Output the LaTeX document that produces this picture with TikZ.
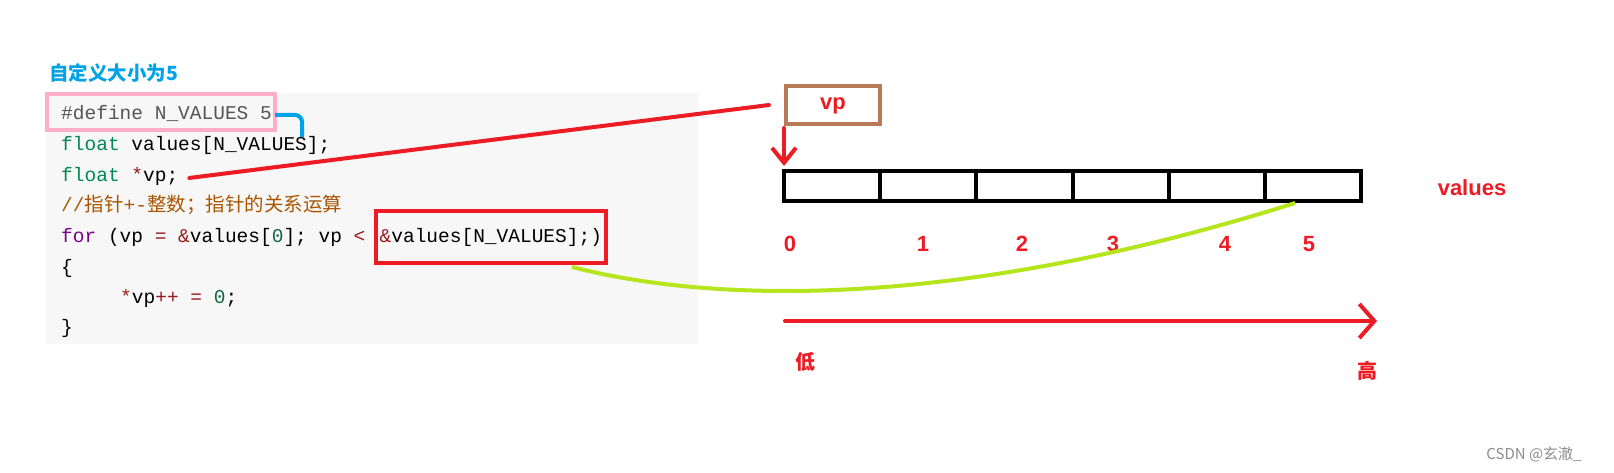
\documentclass[tikz,border=0pt]{standalone}
\usepackage{fontspec}
\setmainfont{Liberation Sans}
\newfontfamily\cjk{Noto Sans CJK SC}
\newfontfamily\codefont{Liberation Mono}
\usepackage{tikz}
\usetikzlibrary{positioning,arrows.meta}
\definecolor{paintred}{HTML}{ED1C24}
\definecolor{paintbrown}{HTML}{B97A57}
\definecolor{paintlime}{HTML}{B5E61D}
\definecolor{paintpink}{HTML}{FFAEC9}
\definecolor{paintblue}{HTML}{00A2E8}
\definecolor{codebg}{HTML}{F7F7F7}
\definecolor{cmeta}{HTML}{555555}
\definecolor{ctype}{HTML}{008855}
\definecolor{ckey}{HTML}{770088}
\definecolor{cop}{HTML}{981A1A}
\definecolor{cnum}{HTML}{116644}
\definecolor{ccmt}{HTML}{AA5500}
\tikzstyle{codeline} = [anchor=base west, inner sep=0pt,
    font=\codefont\fontsize{19.5}{23}\selectfont]
\tikzstyle{cellbox} = [rectangle, draw=black, line width=4pt, outer sep=0pt,
    minimum width=96.2pt, minimum height=30pt, inner sep=0pt]
\tikzstyle{redlabel} = [text=paintred, inner sep=0pt,
    font=\bfseries\fontsize{22}{26}\selectfont]
\tikzstyle{cjklabel} = [text=paintred, inner sep=0pt,
    font=\cjk\bfseries\fontsize{20}{24}\selectfont]
\tikzstyle{redline} = [draw=paintred, line width=4pt, line cap=round]
\tikzstyle{redarrow} = [redline, -{Straight Barb[length=15pt,width=24pt]}]

\begin{document}
\begin{tikzpicture}[x=1pt, y=-1pt]
    \useasboundingbox[fill=white] (0,0) rectangle (1614,472);
    % code panel
    \fill[codebg] (46,93) rectangle (698,344);
    \node [text=paintblue, inner sep=0pt, anchor=west,
        font=\cjk\bfseries\fontsize{19.5}{23}\selectfont] (title) at (49,73) {自定义大小为5};
    \node [draw=paintpink, line width=3.5pt, minimum width=228pt, minimum height=36pt,
        inner sep=0pt] (defbox) at (161,112) {};
    \node [codeline] (defline) at (61,119) {\textcolor{cmeta}{\#define N\_VALUES 5}};
    \node [codeline] (valline) at (61,150) {\textcolor{ctype}{float} values[N\_VALUES];};
    \node [codeline] (vpline) at (61,181) {\textcolor{ctype}{float} \textcolor{cop}{*}vp;};
    \node [codeline] (cmtline) at (61,211)
        {\textcolor{ccmt}{//{\cjk 指针}+-{\cjk 整数；指针的关系运算}}};
    \node [codeline] (forline) at (61,242) {\textcolor{ckey}{for} (vp \textcolor{cop}{=}
        \textcolor{cop}{\&}values[\textcolor{cnum}{0}]; vp \textcolor{cop}{<}};
    \node [codeline, anchor=base west, draw=paintred, line width=4pt, inner xsep=4pt,
        minimum height=52pt, base right=8pt of forline] (endptr)
        {\textcolor{cop}{\&}values[N\_VALUES];)};
    \node [codeline] (openbr) at (61,273) {\{};
    \node [codeline] (incline) at (120,303) {\textcolor{cop}{*}vp\textcolor{cop}{++}
        \textcolor{cop}{=} \textcolor{cnum}{0};};
    \node [codeline] (closebr) at (61,333) {\}};
    % array and pointer
    \node [draw=paintbrown, line width=4pt, minimum width=94pt, minimum height=38pt,
        redlabel, inner sep=0pt, text depth=2pt] (vp) at (833,105) {vp};
    \foreach \i in {0,...,5}
        \node [cellbox] (c\i) at ({832.1+96.2*\i},186) {};
    \node [redlabel] (vallabel) at (1472,188) {values};
    \foreach \x/\n in {790/0, 923/1, 1022/2, 1113/3, 1225/4, 1309/5}
        \node [redlabel] (idx\n) at (\x,244) {\n};
    \coordinate (low) at (785,321);
    \coordinate (high) at (1377,321);
    \node [cjklabel] (lowlabel) at (805,362) {低};
    \node [cjklabel] (highlabel) at (1367,371) {高};
    \node [text=black!45, inner sep=0pt, font=\cjk\fontsize{15}{18}\selectfont]
        (mark) at (1534,454) {CSDN @玄澈\_};
    % connectors
    \draw [paintblue, line width=4pt, rounded corners=7pt]
        ([xshift=3pt,yshift=-2pt]defline.east) -| ++(27,22);
    \path [redline] ([xshift=11pt,yshift=-2pt]vpline.east) -- ([xshift=-15pt]vp.west);
    \path [redarrow, shorten <=2pt, shorten >=5pt] (vp.south west) -- (c0.north west);
    \path [redarrow, -{Straight Barb[length=15pt,width=34pt]}] (low) -- (high);
    \draw [paintlime, line width=4pt]
        ([xshift=-36pt,yshift=-2pt]endptr.south east) .. controls (700,300) and (940,315)
        .. ([xshift=-18pt,yshift=-2pt]c5.south);
\end{tikzpicture}
\end{document}
